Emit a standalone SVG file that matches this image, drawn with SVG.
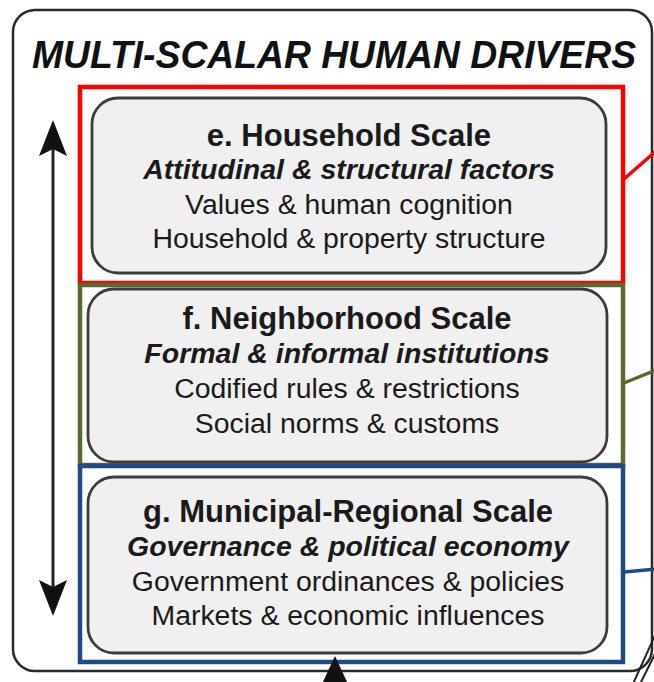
<svg xmlns="http://www.w3.org/2000/svg" width="654" height="682" viewBox="0 0 654 682">
<defs>
<style>
.outer{fill:#ffffff;stroke:#2a2a2a;stroke-width:2.5}
.box{fill:#f0f0f0;stroke:#3c3c3c;stroke-width:2.8}
.t{font-family:"Liberation Sans",Arial,sans-serif;fill:#1a1a1a;text-anchor:middle}
.h{font-size:31px;font-weight:bold}
.i{font-size:28.5px;font-weight:bold;font-style:italic}
.r{font-size:28.4px}
.title{font-family:"Liberation Sans",Arial,sans-serif;font-size:38px;font-weight:bold;font-style:italic;fill:#111;text-anchor:middle}
.red{fill:none;stroke:#ff0000;stroke-width:4.5}
.green{fill:none;stroke:#556b2f;stroke-width:4.5}
.blue{fill:none;stroke:#1f4b82;stroke-width:4.5}
.ln{fill:none;stroke-width:3.5}
</style>
</defs>
<rect width="654" height="682" fill="#ffffff"/>
<g id="frame">
<rect class="outer" x="13" y="10" width="639" height="661" rx="22"/>
<text class="title" x="334" y="68" textLength="604" lengthAdjust="spacingAndGlyphs">MULTI-SCALAR HUMAN DRIVERS</text>
</g>
<g id="scale-arrow">
<line x1="53" y1="145" x2="53" y2="592" stroke="#222" stroke-width="3"/>
<polygon points="53,120 67,156 53,149 39,156" fill="#111"/>
<polygon points="53,616 67,580 53,587 39,580" fill="#111"/>
</g>
<g id="frame-red"><rect class="red" x="80" y="87" width="543" height="196"/></g>
<g id="frame-green"><rect class="green" x="80" y="285" width="543" height="180"/></g>
<g id="frame-blue"><rect class="blue" x="80" y="466" width="543" height="196"/></g>
<g id="household">
<rect class="box" x="92" y="98" width="514" height="175" rx="26"/>
<text class="t h" x="349" y="146">e. Household Scale</text>
<text class="t i" x="349" y="179">Attitudinal &amp; structural factors</text>
<text class="t r" x="349" y="214">Values &amp; human cognition</text>
<text class="t r" x="349" y="248">Household &amp; property structure</text>
</g>
<g id="neighborhood">
<rect class="box" x="88" y="289" width="519" height="173" rx="26"/>
<text class="t h" x="347" y="329">f. Neighborhood Scale</text>
<text class="t i" x="347" y="363">Formal &amp; informal institutions</text>
<text class="t r" x="347" y="398">Codified rules &amp; restrictions</text>
<text class="t r" x="347" y="433">Social norms &amp; customs</text>
</g>
<g id="municipal">
<rect class="box" x="88" y="477" width="519" height="176" rx="26"/>
<text class="t h" x="348" y="522">g. Municipal-Regional Scale</text>
<text class="t i" x="348" y="556">Governance &amp; political economy</text>
<text class="t r" x="348" y="591">Government ordinances &amp; policies</text>
<text class="t r" x="348" y="625">Markets &amp; economic influences</text>
</g>
<g id="connectors">
<line class="ln" x1="624" y1="179" x2="656" y2="151" stroke="#ff0000"/>
<line class="ln" x1="624" y1="383" x2="656" y2="370" stroke="#556b2f"/>
<line class="ln" x1="624" y1="572" x2="656" y2="569" stroke="#1f4b82"/>
<line x1="633" y1="684" x2="656" y2="633" stroke="#222" stroke-width="2"/>
<line x1="640" y1="684" x2="656" y2="652" stroke="#222" stroke-width="2"/>
<polygon points="335,656 322,684 348,684" fill="#111"/>
</g>
</svg>
